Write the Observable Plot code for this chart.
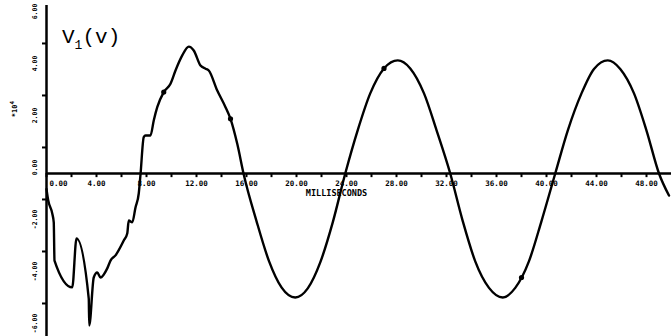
<!DOCTYPE html>
<html>
<head>
<meta charset="utf-8">
<script src="https://cdn.jsdelivr.net/npm/d3@7"></script>
<script src="https://cdn.jsdelivr.net/npm/@observablehq/plot@0.6"></script>
<style>
  html, body { margin: 0; padding: 0; background: #fff; }
  #wrap { position: relative; width: 671px; height: 336px; overflow: hidden; }
  #title { position: absolute; left: 62px; top: 26px; font-family: "Liberation Mono", "DejaVu Sans Mono", monospace; font-size: 21px; color: #000; }
  #title sub { font-size: 13px; vertical-align: -6px; }
  #expo { position: absolute; left: 6px; top: 104px; transform: rotate(-90deg); transform-origin: center; font-family: "DejaVu Sans Mono", monospace; font-weight: bold; font-size: 7px; color: #000; }
</style>
</head>
<body>
<div id="wrap">
  <div id="chart"></div>
  <div id="title">V<sub>1</sub>(v)</div>
  <div id="expo">*10<sup>4</sup></div>
</div>
<script>
// time in milliseconds
const transientT = [0, 0.14, 0.46, 0.58, 0.64, 2.06, 2.40, 3.38, 3.42, 3.78, 4.06, 4.32, 4.86, 5.12, 5.52, 6.18, 6.46, 6.58, 6.86, 7.12, 7.38, 7.52, 7.78, 7.92, 8.32, 8.58, 8.86, 9.38, 9.92, 10.32, 10.86, 11.38, 11.78, 12.32, 12.72, 12.98, 13.66, 14.32, 14.72, 15.26, 15.78];
const transientV = [-0.6, -1.04, -1.54, -1.88, -3.35, -4.38, -2.50, -4.81, -5.85, -4.00, -3.81, -4.00, -3.65, -3.35, -3.15, -2.58, -2.31, -1.81, -1.88, -1.31, -0.77, -0.04, 1.40, 1.46, 1.46, 2.04, 2.55, 3.13, 3.45, 3.96, 4.54, 4.88, 4.73, 4.15, 4.03, 3.96, 3.19, 2.55, 2.10, 1.14, -0.04];
const steadyT = [15.78, 16.8, 17.8, 18.8, 19.9, 20.9, 21.9, 22.9, 23.9, 24.9, 25.9, 27.0, 28.1, 29.1, 30.2, 31.2, 32.3, 33.3, 34.3, 35.4, 36.5, 37.5, 38.6, 39.6, 40.7, 41.7, 42.8, 43.8, 44.9, 45.9, 47.0, 48.0, 49.0, 49.8];
const steadyV = [-0.04, -1.83, -3.37, -4.38, -4.77, -4.42, -3.42, -1.88, 0, 1.67, 3.08, 4.04, 4.35, 4.04, 3.08, 1.67, 0, -1.83, -3.38, -4.40, -4.77, -4.40, -3.37, -1.83, 0, 1.65, 3.08, 4.02, 4.35, 4.02, 3.08, 1.65, 0, -0.85];
const markT = [9.38, 14.72, 27.0, 38.0];
const markV = [3.13, 2.10, 4.04, -4.0];

const xTickValues = [0,2,4,6,8,10,12,14,16,18,20,22,24,26,28,30,32,34,36,38,40,42,44,46,48];
const xLabelValues = [4,8,12,16,20,24,28,32,36,40,44,48];
const xLabels = ["4.00","8.00","12.00","16.00","20.00","24.00","28.00","32.00","36.00","40.00","44.00","48.00"];
const yTickValues = [5, 3, 1, -1, -3, -5];
const yLabelValues = [6, 4, 2, 0, -2, -4, -6];
const yLabels = ["6.00","4.00","2.00","0.00","-2.00","-4.00","-6.00"];
const xTitle = "MILLISECONDS";

const curve = [
  ...transientT.map((t, i) => ({t, v: transientV[i]})),
  ...steadyT.slice(1).map((t, i) => ({t, v: steadyV[i + 1]}))
];
const marks = markT.map((t, i) => ({t, v: markV[i]}));

const font = "'DejaVu Sans Mono', monospace";
const chart = Plot.plot({
  width: 671,
  height: 336,
  marginLeft: 46,
  marginRight: 0,
  marginTop: 5,
  marginBottom: 0,
  x: {domain: [0, 50], axis: null},
  y: {domain: [-6.27, 6.46], axis: null},
  style: {background: "#fff", color: "#000"},
  marks: [
    Plot.ruleY([0], {x1: 0, x2: 50, stroke: "#000", strokeWidth: 2.5}),
    Plot.ruleX([0], {y1: -6.27, y2: 6.46, stroke: "#000", strokeWidth: 2.5}),
    Plot.ruleX(xTickValues, {x: d => d, y1: 0, y2: -0.16, stroke: "#000", strokeWidth: 2}),
    Plot.ruleY(yTickValues, {y: d => d, x1: -0.32, x2: 0, stroke: "#000", strokeWidth: 2}),
    Plot.text(xLabelValues, {x: d => d, y: 0, dy: 10, text: (d, i) => xLabels[i], fontFamily: font, fontWeight: "bold", fontSize: 7.5, fill: "#000"}),
    Plot.text(["0.00"], {x: 0, y: 0, dy: 10, dx: 3, textAnchor: "start", text: d => d, fontFamily: font, fontWeight: "bold", fontSize: 7.5, fill: "#000"}),
    Plot.text(yLabelValues, {x: 0, y: d => d, dx: -12, dy: -6, rotate: -90, text: (d, i) => yLabels[i], fontFamily: font, fontWeight: "bold", fontSize: 6.5, fill: "#000"}),
    Plot.text([xTitle], {x: 23.2, y: 0, dy: 20, text: d => d, fontFamily: font, fontWeight: "bold", fontSize: 8.5, fill: "#000", style: "letter-spacing:1.2px"}),
    Plot.line(curve, {x: "t", y: "v", curve: "monotone-x", stroke: "#000", strokeWidth: 2.4, strokeLinejoin: "round"}),
    Plot.dot(marks, {x: "t", y: "v", r: 2.6, fill: "#000"})
  ]
});
document.getElementById("chart").appendChild(chart);
</script>
</body>
</html>
